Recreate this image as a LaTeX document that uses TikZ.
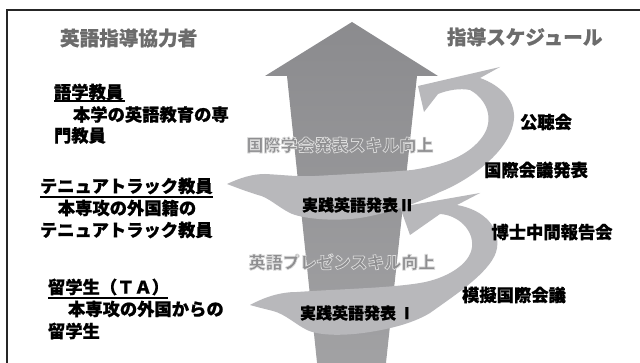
\documentclass[tikz,border=0pt]{standalone}
\usepackage{fontspec}
\newfontfamily\jp{Noto Sans CJK JP}[BoldFeatures={FakeBold=0.7}]
\newfontfamily\jpm{Noto Sans CJK JP}
\definecolor{arrowtop}{RGB}{139,139,142}
\definecolor{arrowbot}{RGB}{162,162,164}
\definecolor{ribbongray}{RGB}{184,184,187}
\definecolor{headgray}{RGB}{108,108,108}
\definecolor{midgray}{RGB}{142,142,144}
\newcommand{\halotext}[1]{\special{pdf:literal direct 2 Tr 0.7 w 0.86 G}#1\special{pdf:literal direct 0 Tr}}
\tikzset{
  lbl/.style={inner sep=0pt, outer sep=0pt, font=\jp\bfseries\fontsize{17.3}{20}\selectfont, text=black},
  headlbl/.style={inner sep=0pt, outer sep=0pt, font=\jp\bfseries\fontsize{19.6}{22}\selectfont, text=headgray},
  midlbl/.style={inner sep=0pt, outer sep=0pt, font=\jpm\bfseries\fontsize{17}{20}\selectfont, text=midgray},
  courselbl/.style={inner sep=0pt, outer sep=0pt, font=\jp\bfseries\fontsize{16}{19}\selectfont, text=black},
  ribbon/.style={fill=ribbongray},
  uline/.style={line width=1.3pt, black},
  frame/.style={line width=2pt, black!85}
}
\begin{document}
\begin{tikzpicture}[x=1pt,y=-1pt]
\useasboundingbox (0,0) rectangle (640,363);
\fill[white] (0,0) rectangle (640,363);
\draw[frame] (7,10) rectangle (660,380);

% big arrow
\shade[top color=arrowtop, bottom color=arrowbot]
  (352,22) -- (438,76) -- (417,76) -- (385,372) -- (318,372) -- (287,76) -- (265,76) -- cycle;

% lower ribbon (I)
\fill[ribbon] (250,305) .. controls (265,297) and (280,292) .. (297,292)
  .. controls (340,289) and (390,288) .. (420,283)
  .. controls (445,279) and (470,265) .. (472,247)
  .. controls (474,230) and (458,215) .. (440,214)
  -- (410,235) -- (400,207) -- (480,193) -- (457,205)
  .. controls (485,210) and (500,228) .. (497,248)
  .. controls (494,270) and (455,295) .. (430,313)
  .. controls (415,322) and (395,328) .. (370,332)
  .. controls (345,336) and (320,336) .. (307,330)
  .. controls (295,324) and (285,314) .. (273,311)
  .. controls (265,309) and (257,307) .. cycle;

% upper ribbon (II)
\fill[ribbon] (227,184) .. controls (240,178) and (252,174) .. (265,174)
  .. controls (285,175) and (300,177) .. (315,176)
  .. controls (350,174) and (390,172) .. (412,170)
  .. controls (445,165) and (470,155) .. (483,136)
  .. controls (494,120) and (488,100) .. (470,90)
  .. controls (460,88) and (448,90) .. (438,94)
  -- (424,112) -- (418,86) -- (500,67) -- (480,78)
  .. controls (500,85) and (515,100) .. (514,118)
  .. controls (512,150) and (470,180) .. (440,192)
  .. controls (420,202) and (390,213) .. (360,218)
  .. controls (330,222) and (300,218) .. (290,213)
  .. controls (278,207) and (268,197) .. (258,195)
  .. controls (245,191) and (235,187) .. cycle;

% headings
\node[headlbl, anchor=west] (hl) at (60,38) {英語指導協力者};
\node[headlbl, anchor=west] (hr) at (447,37) {指導スケジュール};

% left column
\node[lbl, anchor=west] (a1) at (54,92) {語学教員};
\draw[uline] (54,101) -- (125,101);
\node[lbl, anchor=west] (a2) at (73,114.5) {本学の英語教育の専};
\node[lbl, anchor=west] (a3) at (54,135.5) {門教員};

\node[lbl, anchor=west] (b1) at (40,186) {テニュアトラック教員};
\draw[uline] (40,197) -- (213,197);
\node[lbl] (b2) at (127,208) {本専攻の外国籍の};
\node[lbl, anchor=west] (b3) at (40,230) {テニュアトラック教員};

\node[lbl, anchor=west] (c1) at (48,287) {留学生（ＴＡ）};
\draw[uline] (48,298) -- (168,298);
\node[lbl, anchor=west] (c2) at (68,309) {本専攻の外国からの};
\node[lbl, anchor=west] (c3) at (48,331) {留学生};

% centre
\node[midlbl] (m1) at (340,145) {\halotext{国際学会発表スキル向上}};
\node[midlbl] (m2) at (342,262) {\halotext{英語プレゼンスキル向上}};
\node[courselbl, anchor=west] (k2) at (302,205) {実践英語発表\hspace{3pt}II};
\node[courselbl, anchor=west] (k1) at (300,313) {実践英語発表\hspace{8pt}I};

% right column
\node[lbl] (r1) at (546,122) {公聴会};
\node[lbl] (r2) at (536,170) {国際会議発表};
\node[lbl] (r3) at (552,232) {博士中間報告会};
\node[lbl] (r4) at (514,295) {模擬国際会議};
\end{tikzpicture}
\end{document}
